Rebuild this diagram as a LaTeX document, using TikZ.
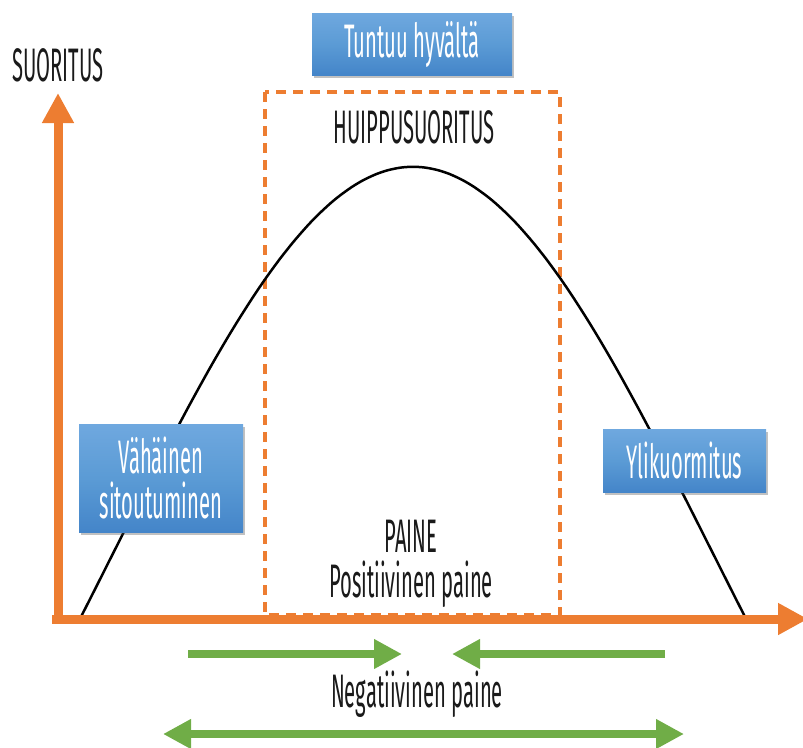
\documentclass[tikz,border=0pt]{standalone}
\usepackage{fontspec}
\setmainfont{Fira Sans}[FakeStretch=0.43]
\usetikzlibrary{arrows.meta,shadows}
\definecolor{axisorange}{HTML}{ED7D31}
\definecolor{arrowgreen}{HTML}{70AD47}
\definecolor{boxtop}{HTML}{6FA8DF}
\definecolor{boxmid}{HTML}{5B9BD5}
\definecolor{boxbot}{HTML}{4485C9}
\definecolor{inktext}{HTML}{1A1A1A}
\begin{document}
\begin{tikzpicture}[x=1pt,y=-1pt,
  lbl/.style={font=\fontsize{47}{45}\selectfont, text=inktext, inner sep=0pt, anchor=base},
  bluebox/.style={font=\fontsize{47}{45}\selectfont, text=white, align=center,
    top color=boxtop, bottom color=boxbot, middle color=boxmid, draw=none,
    inner sep=0pt, drop shadow={shadow xshift=2pt, shadow yshift=-3pt, opacity=0.35, fill=black!70}},
  axisline/.style={draw=axisorange, line width=9pt, -{Triangle[length=30pt,width=30pt]}},
  greenline/.style={draw=arrowgreen, line width=8pt},
  greentip/.style={-{Triangle[length=28pt,width=28pt]}},
  zonebox/.style={draw=axisorange, line width=3.5pt, dash pattern=on 10pt off 7pt},
  curveline/.style={draw=black, line width=2.5pt}
]
\useasboundingbox (0,0) rectangle (803,747);

% dashed zone
\coordinate (zoneTL) at (265,92);
\coordinate (zoneBR) at (560,615);
\draw[zonebox] (zoneTL) rectangle (zoneBR);

% performance curve
\draw[curveline] plot[domain=80:746, samples=120, smooth] (\x, {167+982.6*(1-exp(-((\x-413)/100)^2/18))});

% axes
\coordinate (origin) at (52,619);
\coordinate (xend) at (808,619);
\coordinate (ybase) at (58,623);
\coordinate (yend) at (58,93);
\draw[axisline] (origin) -- (xend);
\draw[axisline] (ybase) -- (yend);

% boxes
\node[bluebox, minimum width=200pt, minimum height=62pt] (feel) at (412,44) {Tuntuu hyvältä};
\node[bluebox, minimum width=164pt, minimum height=108pt] (low) at (161,478) {Vähäinen\\sitoutuminen};
\node[bluebox, minimum width=163pt, minimum height=63pt] (over) at (684.5,460.5) {Ylikuormitus};

% labels
\node[lbl] (yaxislabel) at (58,81) {SUORITUS};
\node[lbl] (peak) at (414,143) {HUIPPUSUORITUS};
\node[lbl] (pressure) at (411,552) {PAINE};
\node[lbl] (positive) at (411,597) {Positiivinen paine};
\node[lbl] (negative) at (417,707) {Negatiivinen paine};

% green arrows
\coordinate (ra) at (188,654);
\coordinate (rb) at (402,654);
\coordinate (la) at (665,654);
\coordinate (lb) at (452,654);
\coordinate (da) at (163,734);
\coordinate (db) at (684,734);
\draw[greenline, greentip] (ra) -- (rb);
\draw[greenline, greentip] (la) -- (lb);
\draw[greenline, {Triangle[length=28pt,width=28pt]}-{Triangle[length=28pt,width=28pt]}] (da) -- (db);
\end{tikzpicture}
\end{document}
